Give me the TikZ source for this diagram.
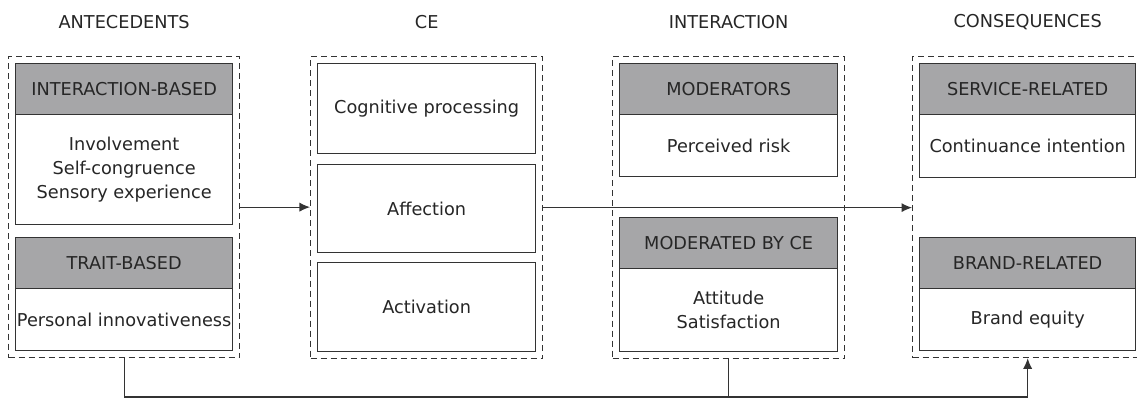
\documentclass[tikz,border=0pt]{standalone}
\usepackage{fontspec}
\setmainfont{DejaVu Sans}
\definecolor{hdgray}{RGB}{166,166,168}
\definecolor{lnclr}{RGB}{51,51,51}
\usetikzlibrary{arrows.meta,positioning,fit,calc}

\begin{document}
\begin{tikzpicture}[x=0.025cm, y=-0.025cm,
    txt/.style={font=\fontsize{12.6}{17}\selectfont, text=black!85},
    head/.style={txt, rectangle, anchor=north west, inner sep=0pt, minimum height=1.275cm,
      draw=lnclr, line width=0.9pt, fill=hdgray},
    body/.style={txt, rectangle, anchor=north west, inner sep=0pt, align=center,
      draw=lnclr, line width=0.9pt, fill=white},
    group/.style={draw=lnclr, dash pattern=on 0.15cm off 0.1cm, line width=0.8pt, inner sep=0.16cm},
    arrow/.style={-{Latex[length=7.5pt,width=6.5pt]}, lnclr, line width=0.8pt}
  ]
    \useasboundingbox (0,0) rectangle (1137,398);
    \coordinate (top) at (0,22);
    \coordinate (low) at (0,397);

    \node[head, minimum width=5.425cm] (ibh) at (15,63)  {INTERACTION-BASED};
    \node[body, minimum width=5.425cm, minimum height=2.75cm] (ibb) at (15,114)
      {Involvement\\Self-congruence\\Sensory experience};
    \node[head, minimum width=5.425cm] (tbh) at (15,237) {TRAIT-BASED};
    \node[body, minimum width=5.425cm, minimum height=1.55cm] (tbb) at (15,288) {Personal innovativeness};

    \node[body, minimum width=5.45cm, minimum height=2.25cm] (cog) at (317,63)  {Cognitive processing};
    \node[body, minimum width=5.45cm, minimum height=2.2cm]  (aff) at (317,164) {Affection};
    \node[body, minimum width=5.45cm, minimum height=2.225cm] (act) at (317,262) {Activation};

    \node[head, minimum width=5.45cm] (modh) at (619,63)  {MODERATORS};
    \node[body, minimum width=5.45cm, minimum height=1.55cm] (modb) at (619,114) {Perceived risk};
    \node[head, minimum width=5.45cm] (mceh) at (619,217) {MODERATED BY CE};
    \node[body, minimum width=5.45cm, minimum height=2.075cm] (mceb) at (619,268) {Attitude\\Satisfaction};

    \node[head, minimum width=5.4cm] (srh) at (919,63)  {SERVICE-RELATED};
    \node[body, minimum width=5.4cm, minimum height=1.575cm] (srb) at (919,114) {Continuance intention};
    \node[head, minimum width=5.4cm] (brh) at (919,237) {BRAND-RELATED};
    \node[body, minimum width=5.4cm, minimum height=1.55cm] (brb) at (919,288) {Brand equity};

    \node[group, fit=(ibh)(tbb)]   (ante) {};
    \node[group, fit=(cog)(act)]   (ce) {};
    \node[group, fit=(modh)(mceb)] (inter) {};
    \node[group, fit=(srh)(brb)]   (cons) {};

    \node[txt] (tante)  at (ante.north |- top)  {ANTECEDENTS};
    \node[txt] (tce)    at (ce.north |- top)    {CE};
    \node[txt] (tinter) at (inter.north |- top) {INTERACTION};
    \node[txt] (tcons)  at (cons.north |- top)  {CONSEQUENCES};

    \draw[arrow] (ante.east) -- (ante.east -| ce.west);
    \draw[arrow] (ce.east) -- (ce.east -| cons.west);
    \draw[arrow] (ante.south) |- (low -| cons.south) -- (cons.south);
    \draw[lnclr, line width=0.8pt] (inter.south) -- (inter.south |- low);
\end{tikzpicture}
\end{document}
